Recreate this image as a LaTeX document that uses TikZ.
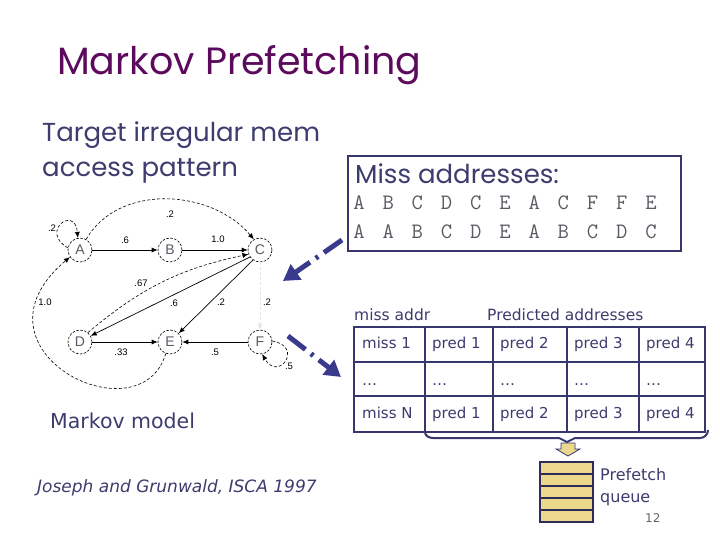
\documentclass[tikz,border=0pt]{standalone}
\usepackage{fontspec}
\usetikzlibrary{arrows.meta}
\setmainfont{DejaVu Sans}
\newfontfamily\comic{Poppins}
\newfontfamily\arialf{Liberation Sans}
\definecolor{titlepurple}{RGB}{92,10,92}
\definecolor{txtblue}{RGB}{60,60,110}
\definecolor{arrblue}{RGB}{58,58,140}
\definecolor{tblblue}{RGB}{55,55,110}
\definecolor{qyellow}{RGB}{236,216,140}
\definecolor{lettergray}{RGB}{90,90,100}
\tikzset{
  txt/.style={anchor=base west, inner sep=0pt, text=txtblue},
  st/.style={circle, draw, dash pattern=on 2.5pt off 1.5pt, line width=0.6pt, minimum size=24pt, inner sep=0pt, font=\arialf\fontsize{14}{14}\selectfont, text=lettergray},
  sol/.style={line width=0.7pt, -{Latex[length=6pt,width=5pt]}},
  dsh/.style={line width=0.6pt, dash pattern=on 3pt off 2pt, -{Latex[length=6pt,width=5pt]}},
  lbl/.style={inner sep=0pt, font=\arialf\fontsize{9.5}{9.5}\selectfont},
  barrow/.style={draw=arrblue, line width=5pt, dash pattern=on 22pt off 7pt on 3pt off 7pt, -{Triangle[length=16pt,width=18pt]}},
  tline/.style={draw=tblblue, line width=2.5pt},
  cell/.style={anchor=base west, inner sep=0pt, text=txtblue, font=\fontsize{15}{15}\selectfont},
  mrow/.style={anchor=base, inner sep=0pt, text=lettergray, font=\ttfamily\fontsize{22}{22}\selectfont},
}
\begin{document}
\begin{tikzpicture}[x=1pt,y=1pt]
\useasboundingbox[fill=white] (0,0) rectangle (720,-540);
% title and left texts
\node[txt, text=titlepurple, font=\comic\fontsize{38}{38}\selectfont] (title) at (57,-75) {Markov Prefetching};
\node[txt, font=\comic\fontsize{26}{26}\selectfont] (target1) at (42,-142) {Target irregular mem};
\node[txt, font=\comic\fontsize{26}{26}\selectfont] (target2) at (42,-177) {access pattern};
\node[txt, font=\fontsize{20.5}{20.5}\selectfont] (mmodel) at (50,-428) {Markov model};
\node[txt, font=\itshape\fontsize{17}{17}\selectfont] (cite) at (37,-492) {Joseph and Grunwald, ISCA 1997};
% miss address box
\node[draw=tblblue, line width=2pt, minimum width=333pt, minimum height=95pt, anchor=north west, inner sep=0pt] (missbox) at (347,-155) {};
\node[txt, font=\comic\fontsize{26}{26}\selectfont] (misshdr) at (355,-184) {Miss addresses:};
\foreach \l [count=\i from 0] in {A,B,C,D,C,E,A,C,F,F,E}
  \node[mrow] (ra\i) at (359+29.2*\i,-210) {\l};
\foreach \l [count=\i from 0] in {A,A,B,C,D,E,A,B,C,D,C}
  \node[mrow] (rb\i) at (359+29.2*\i,-239) {\l};
% Markov graph
\node[st] (A) at (80,-250) {A};
\node[st] (B) at (170,-250) {B};
\node[st] (C) at (260,-250) {C};
\node[st] (D) at (80,-342) {D};
\node[st] (E) at (170,-342) {E};
\node[st] (F) at (260,-342) {F};
\draw[sol] (A) -- (B);
\draw[sol] (B) -- (C);
\draw[dsh] (A.60) to[out=60,in=130] (C.120);
\draw[dsh] (A.170) to[out=150,in=95,looseness=6] (A.100);
\draw[dsh] (D.50) to[bend left=14] (C.200);
\draw[sol] (C.215) -- (D.30);
\draw[sol] (C.235) -- (E.45);
\draw[line width=0.6pt, draw=black!10, dash pattern=on 3pt off 2pt, -{Latex[length=6pt,width=5pt]}] (C) -- (F);
\draw[sol] (D) -- (E);
\draw[sol] (F) -- (E);
\draw[dsh] (F.5) to[out=-10,in=-60,looseness=5] (F.-80);
\draw[dsh] (E.250) .. controls (140,-440) and (-40,-350) .. (A.215);
\node[lbl] (l1) at (125,-240) {.6};
\node[lbl] (l2) at (218,-239) {1.0};
\node[lbl] (l3) at (170,-214) {.2};
\node[lbl] (l4) at (52,-228) {.2};
\node[lbl] (l5) at (141,-283) {.67};
\node[lbl] (l6) at (174,-303) {.6};
\node[lbl] (l7) at (221,-302) {.2};
\node[lbl] (l8) at (267,-302) {.2};
\node[lbl] (l9) at (45,-302) {1.0};
\node[lbl] (l10) at (121,-352) {.33};
\node[lbl] (l11) at (215,-352) {.5};
\node[lbl] (l12) at (289,-366) {.5};
% blue arrows
\coordinate (a1s) at (342,-240);
\coordinate (a1e) at (283,-281);
\coordinate (a2s) at (288,-336);
\coordinate (a2e) at (341,-377);
\draw[barrow] (a1s) -- (a1e);
\draw[barrow] (a2s) -- (a2e);
% table
\node[txt, font=\fontsize{15.5}{15.5}\selectfont] (hmiss) at (354,-320) {miss addr};
\node[txt, font=\fontsize{15.5}{15.5}\selectfont] (hpred) at (487,-320) {Predicted addresses};
\draw[tline] (354,-327) rectangle (705,-432);
\draw[tline] (354,-362) -- (705,-362);
\draw[tline] (354,-396) -- (705,-396);
\foreach \x in {425,493,567,639} \draw[tline] (\x,-327) -- (\x,-432);
\node[cell] (c11) at (362,-348) {miss 1};
\node[cell] (c12) at (432,-348) {pred 1};
\node[cell] (c13) at (500,-348) {pred 2};
\node[cell] (c14) at (574,-348) {pred 3};
\node[cell] (c15) at (646,-348) {pred 4};
\node[cell] (c21) at (362,-385) {…};
\node[cell] (c22) at (432,-385) {…};
\node[cell] (c23) at (500,-385) {…};
\node[cell] (c24) at (574,-385) {…};
\node[cell] (c25) at (646,-385) {…};
\node[cell] (c31) at (362,-418) {miss N};
\node[cell] (c32) at (432,-418) {pred 1};
\node[cell] (c33) at (500,-418) {pred 2};
\node[cell] (c34) at (574,-418) {pred 3};
\node[cell] (c35) at (646,-418) {pred 4};
% brace
\draw[draw=tblblue, line width=2pt, line join=round] (425,-432) to[out=-90,in=180] (433,-438) -- (559,-438) -- (567,-442) -- (575,-438) -- (700,-438) to[out=0,in=-90] (708,-430);
% yellow arrow
\draw[fill=qyellow, draw=tblblue, line width=0.8pt] (561,-443) -- (575,-443) -- (575,-449) -- (580,-449) -- (568,-456) -- (556,-449) -- (561,-449) -- cycle;
% queue
\foreach \i in {0,...,4} \draw[fill=qyellow, draw=tblblue!80!black, line width=2pt] (540,-462-12*\i) rectangle (593,-474-12*\i);
\node[txt, font=\fontsize{16}{16}\selectfont] (pf1) at (600,-480) {Prefetch};
\node[txt, font=\fontsize{16}{16}\selectfont] (pf2) at (600,-502) {queue};
\node[txt, text=black!60, font=\fontsize{12}{12}\selectfont] (pnum) at (645,-522) {12};
\end{tikzpicture}
\end{document}
